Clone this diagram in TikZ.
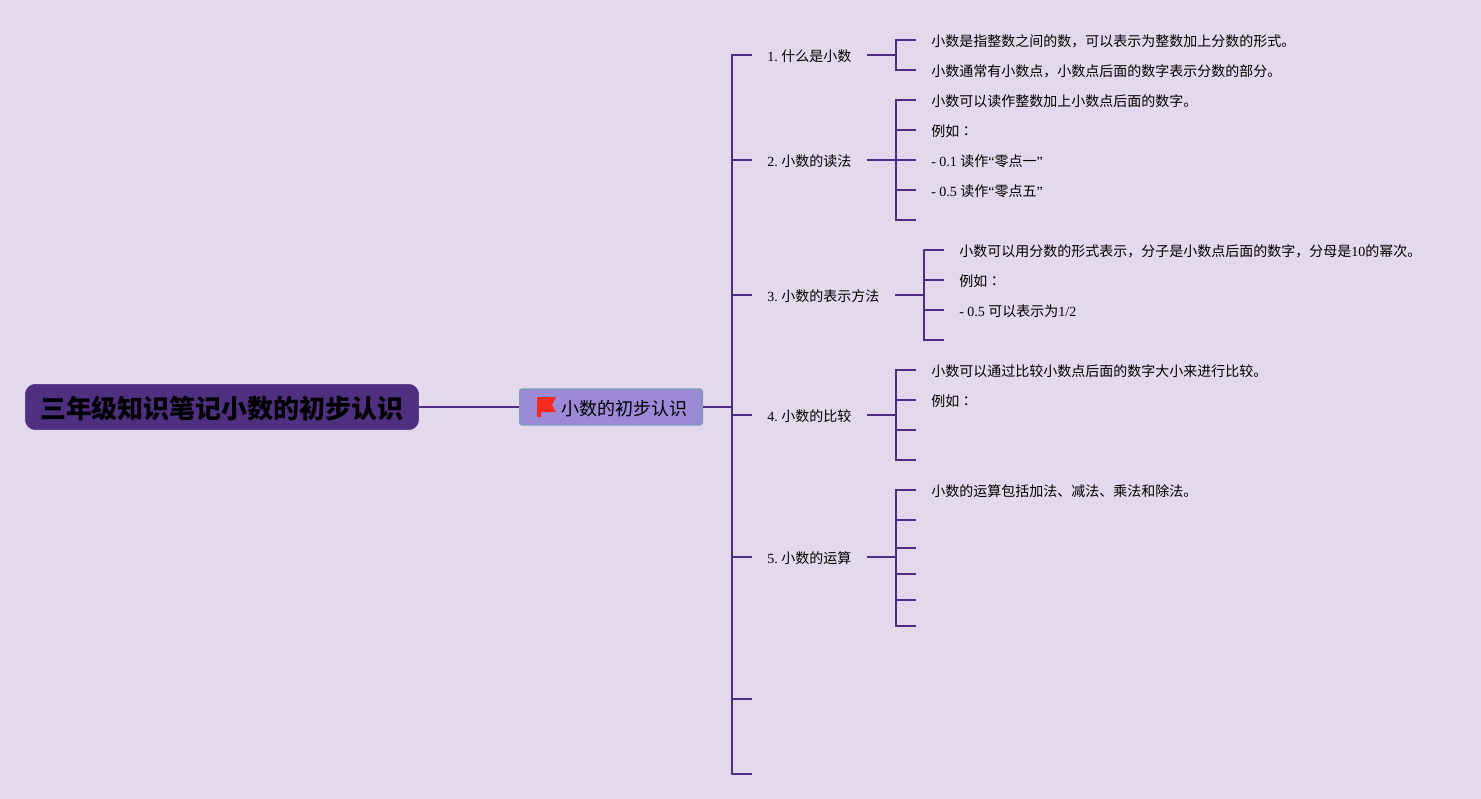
\documentclass[tikz,border=0pt]{standalone}
\usepackage{fontspec}
\setmainfont{Liberation Serif}
\newfontfamily\cjk{Noto Sans CJK SC}
\newfontfamily\cjkcolon{Noto Sans CJK TC}
\newcommand{\zh}[1]{{\cjk #1}}
\newcommand{\lizi}{\zh{例如}{\cjkcolon ：}}
\frenchspacing
\definecolor{bgcol}{HTML}{E3D9ED}
\definecolor{linecol}{HTML}{4F2F85}
\definecolor{rootcol}{HTML}{4F3080}
\definecolor{subcol}{HTML}{9A8AD8}
\definecolor{subedge}{HTML}{7F9DBB}
\definecolor{flagcol}{HTML}{F62B1E}
\tikzset{
    rootbox/.style={draw=rootcol, fill=rootcol, rounded corners=7.5pt, text=black,
	minimum width=295pt, minimum height=34pt, inner sep=0pt, text height=19pt, text depth=1.5pt,
	font=\cjk\fontsize{19.5}{24}\selectfont\bfseries},
    subbox/.style={draw=subedge, line width=1pt, fill=subcol, rounded corners=2pt, anchor=west,
	inner xsep=11pt, inner ysep=0pt, minimum height=27pt, text height=12.5pt, text depth=0.5pt,
	font=\fontsize{13.5}{16}\selectfont},
    topic/.style={anchor=west, inner xsep=11.25pt, inner ysep=0pt, text height=10.5pt, text depth=0.5pt,
	font=\fontsize{10.5}{13}\selectfont},
    leaf/.style={topic},
    branch/.style={draw=linecol, line width=1.6pt}
}
\begin{document}
\begin{tikzpicture}[x=0.75pt, y=-0.75pt]
    \useasboundingbox [fill=bgcol] (0, 0) rectangle (1481, 799);

    \path (222, 407) node [rootbox] (root) {三年级知识笔记小数的初步认识};
    \path (519, 407) node [subbox] (sub) {\hspace*{20.5pt}\zh{小数的初步认识}};
    \draw [branch] (root) -- (sub);
    \fill [flagcol] (537, 397) -- (556, 397) -- (552, 405) -- (556, 412) -- (541, 412)
	-- (541, 417) -- (537, 417) -- cycle;

    \coordinate (hub) at (732, 407);
    \draw [branch] (sub) -- (hub);
    \path (752, 55) node [topic] (t1) {1. \zh{什么是小数}};
    \path (752, 160) node [topic] (t2) {2. \zh{小数的读法}};
    \path (752, 295) node [topic] (t3) {3. \zh{小数的表示方法}};
    \path (752, 415) node [topic] (t4) {4. \zh{小数的比较}};
    \path (752, 557) node [topic] (t5) {5. \zh{小数的运算}};
    \coordinate (t6) at (752, 699);
    \coordinate (t7) at (752, 774);
    \draw [branch] (t1.west) -| (hub) |- (t7);
    \draw [branch] (hub |- t2.west) -- (t2.west);
    \draw [branch] (hub |- t3.west) -- (t3.west);
    \draw [branch] (hub |- t4.west) -- (t4.west);
    \draw [branch] (hub |- t5.west) -- (t5.west);
    \draw [branch] (hub |- t6) -- (t6);

    \coordinate (j1) at (896, 55);
    \path (916, 40) node [leaf] (a1) {\zh{小数是指整数之间的数，可以表示为整数加上分数的形式。}};
    \path (916, 70) node [leaf] (a2) {\zh{小数通常有小数点，小数点后面的数字表示分数的部分。}};
    \draw [branch] (t1) -- (j1);
    \draw [branch] (a1.west) -| (j1) |- (a2.west);

    \coordinate (j2) at (896, 160);
    \path (916, 100) node [leaf] (b1) {\zh{小数可以读作整数加上小数点后面的数字。}};
    \path (916, 130) node [leaf] (b2) {\lizi};
    \path (916, 160) node [leaf] (b3) {- 0.1 \zh{读作}“\zh{零点一}”};
    \path (916, 190) node [leaf] (b4) {- 0.5 \zh{读作}“\zh{零点五}”};
    \coordinate (b5) at (916, 220);
    \draw [branch] (t2) -- (b3);
    \draw [branch] (b1.west) -| (j2) |- (b5);
    \draw [branch] (j2 |- b2.west) -- (b2.west);
    \draw [branch] (j2 |- b4.west) -- (b4.west);

    \coordinate (j3) at (924, 295);
    \path (944, 250) node [leaf] (c1) {\zh{小数可以用分数的形式表示，分子是小数点后面的数字，分母是}10\zh{的幂次。}};
    \path (944, 280) node [leaf] (c2) {\lizi};
    \path (944, 310) node [leaf] (c3) {- 0.5 \zh{可以表示为}1/2};
    \coordinate (c4) at (944, 340);
    \draw [branch] (t3) -- (j3);
    \draw [branch] (c1.west) -| (j3) |- (c4);
    \draw [branch] (j3 |- c2.west) -- (c2.west);
    \draw [branch] (j3 |- c3.west) -- (c3.west);

    \coordinate (j4) at (896, 415);
    \path (916, 370) node [leaf] (d1) {\zh{小数可以通过比较小数点后面的数字大小来进行比较。}};
    \path (916, 400) node [leaf] (d2) {\lizi};
    \coordinate (d3) at (916, 430);
    \coordinate (d4) at (916, 460);
    \draw [branch] (t4) -- (j4);
    \draw [branch] (d1.west) -| (j4) |- (d4);
    \draw [branch] (j4 |- d2.west) -- (d2.west);
    \draw [branch] (j4 |- d3) -- (d3);

    \coordinate (j5) at (896, 557);
    \path (916, 490) node [leaf] (e1) {\zh{小数的运算包括加法、减法、乘法和除法。}};
    \coordinate (e2) at (916, 520);
    \coordinate (e3) at (916, 548);
    \coordinate (e4) at (916, 574);
    \coordinate (e5) at (916, 600);
    \coordinate (e6) at (916, 626);
    \draw [branch] (t5) -- (j5);
    \draw [branch] (e1.west) -| (j5) |- (e6);
    \draw [branch] (j5 |- e2) -- (e2);
    \draw [branch] (j5 |- e3) -- (e3);
    \draw [branch] (j5 |- e4) -- (e4);
    \draw [branch] (j5 |- e5) -- (e5);
\end{tikzpicture}
\end{document}
